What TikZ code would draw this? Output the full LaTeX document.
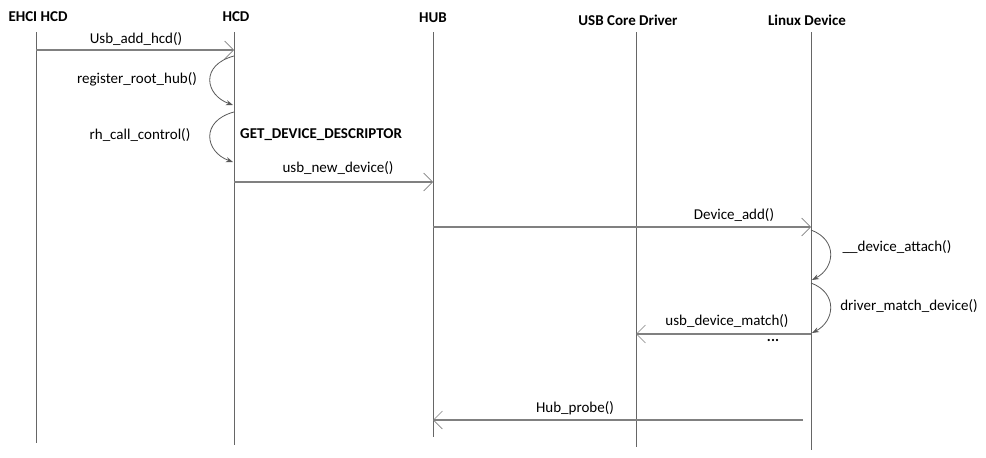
\documentclass[tikz,border=0pt]{standalone}
\usepackage{fontspec}
\setmainfont{Carlito}
\usetikzlibrary{arrows.meta}
\begin{document}
\begin{tikzpicture}[x=1pt,y=-1pt,
  head/.style={font=\bfseries\fontsize{15}{17}\selectfont, inner sep=0pt},
  lbl/.style={font=\fontsize{15}{17}\selectfont, inner sep=0pt},
  life/.style={draw=black!60, line width=1pt},
  msg/.style={draw=black!50, line width=1.2pt, -{Straight Barb[length=9pt,width=18pt,line width=0.6pt]}},
  self/.style={draw=black!65, line width=0.8pt, -{Stealth[length=7pt,width=5pt]}}]
\useasboundingbox (0,0) rectangle (986,458);
% headers
\node[head] (ehci) at (38,17) {EHCI HCD};
\node[head] (hcd) at (236,17) {HCD};
\node[head] (hub) at (433,18) {HUB};
\node[head] (core) at (628,20) {USB Core Driver};
\node[head] (linux) at (807,20) {Linux Device};
% lifeline ends
\coordinate (ehciT) at (36,32); \coordinate (ehciB) at (36,443);
\coordinate (hcdT) at (234,32); \coordinate (hcdB) at (234,445);
\coordinate (hubT) at (433,32); \coordinate (hubB) at (433,437);
\coordinate (coreT) at (636,32); \coordinate (coreB) at (636,447);
\coordinate (linuxT) at (811,32); \coordinate (linuxB) at (811,450);
\draw[life] (ehciT) -- (ehciB);
\draw[life] (hcdT) -- (hcdB);
\draw[life] (hubT) -- (hubB);
\draw[life] (coreT) -- (coreB);
\draw[life] (linuxT) -- (linuxB);
% message points
\coordinate (m1s) at (36,50); \coordinate (m1e) at (234,50);
\coordinate (a1s) at (234,56); \coordinate (a1e) at (233,105);
\coordinate (a2s) at (234,112); \coordinate (a2e) at (233,162);
\coordinate (m2s) at (234,182); \coordinate (m2e) at (433,182);
\coordinate (m3s) at (433,227); \coordinate (m3e) at (811,227);
\coordinate (a3s) at (811,230); \coordinate (a3e) at (812,280);
\coordinate (a4s) at (811,283); \coordinate (a4e) at (812,333);
\coordinate (m4s) at (811,334); \coordinate (m4e) at (636,334);
\coordinate (m5s) at (803,420); \coordinate (m5e) at (433,420);
% messages
\draw[msg] (m1s) -- (m1e);
\node[lbl] (l1) at (136,39) {Usb\_add\_hcd()};
\draw[self] (a1s) .. controls (200,65) and (205,95) .. (a1e);
\node[lbl] (l2) at (137,79) {register\_root\_hub()};
\draw[self] (a2s) .. controls (200,121) and (205,152) .. (a2e);
\node[lbl] (l3) at (140,135) {rh\_call\_control()};
\node[head, anchor=west] (gdd) at (240,135) {GET\_DEVICE\_DESCRIPTOR};
\draw[msg] (m2s) -- (m2e);
\node[lbl] (l4) at (338,168) {usb\_new\_device()};
\draw[msg] (m3s) -- (m3e);
\node[lbl] (l5) at (734,215) {Device\_add()};
\draw[self] (a3s) .. controls (838,240) and (835,268) .. (a3e);
\node[lbl] (l6) at (897,247) {\_\_device\_attach()};
\draw[self] (a4s) .. controls (838,293) and (835,321) .. (a4e);
\node[lbl] (l7) at (909,306) {driver\_match\_device()};
\draw[msg] (m4s) -- (m4e);
\node[lbl] (l8) at (727,321) {usb\_device\_match()};
\node[head] (dots) at (773,340) {...};
\draw[msg] (m5s) -- (m5e);
\node[lbl] (l9) at (575,408) {Hub\_probe()};
\end{tikzpicture}
\end{document}
